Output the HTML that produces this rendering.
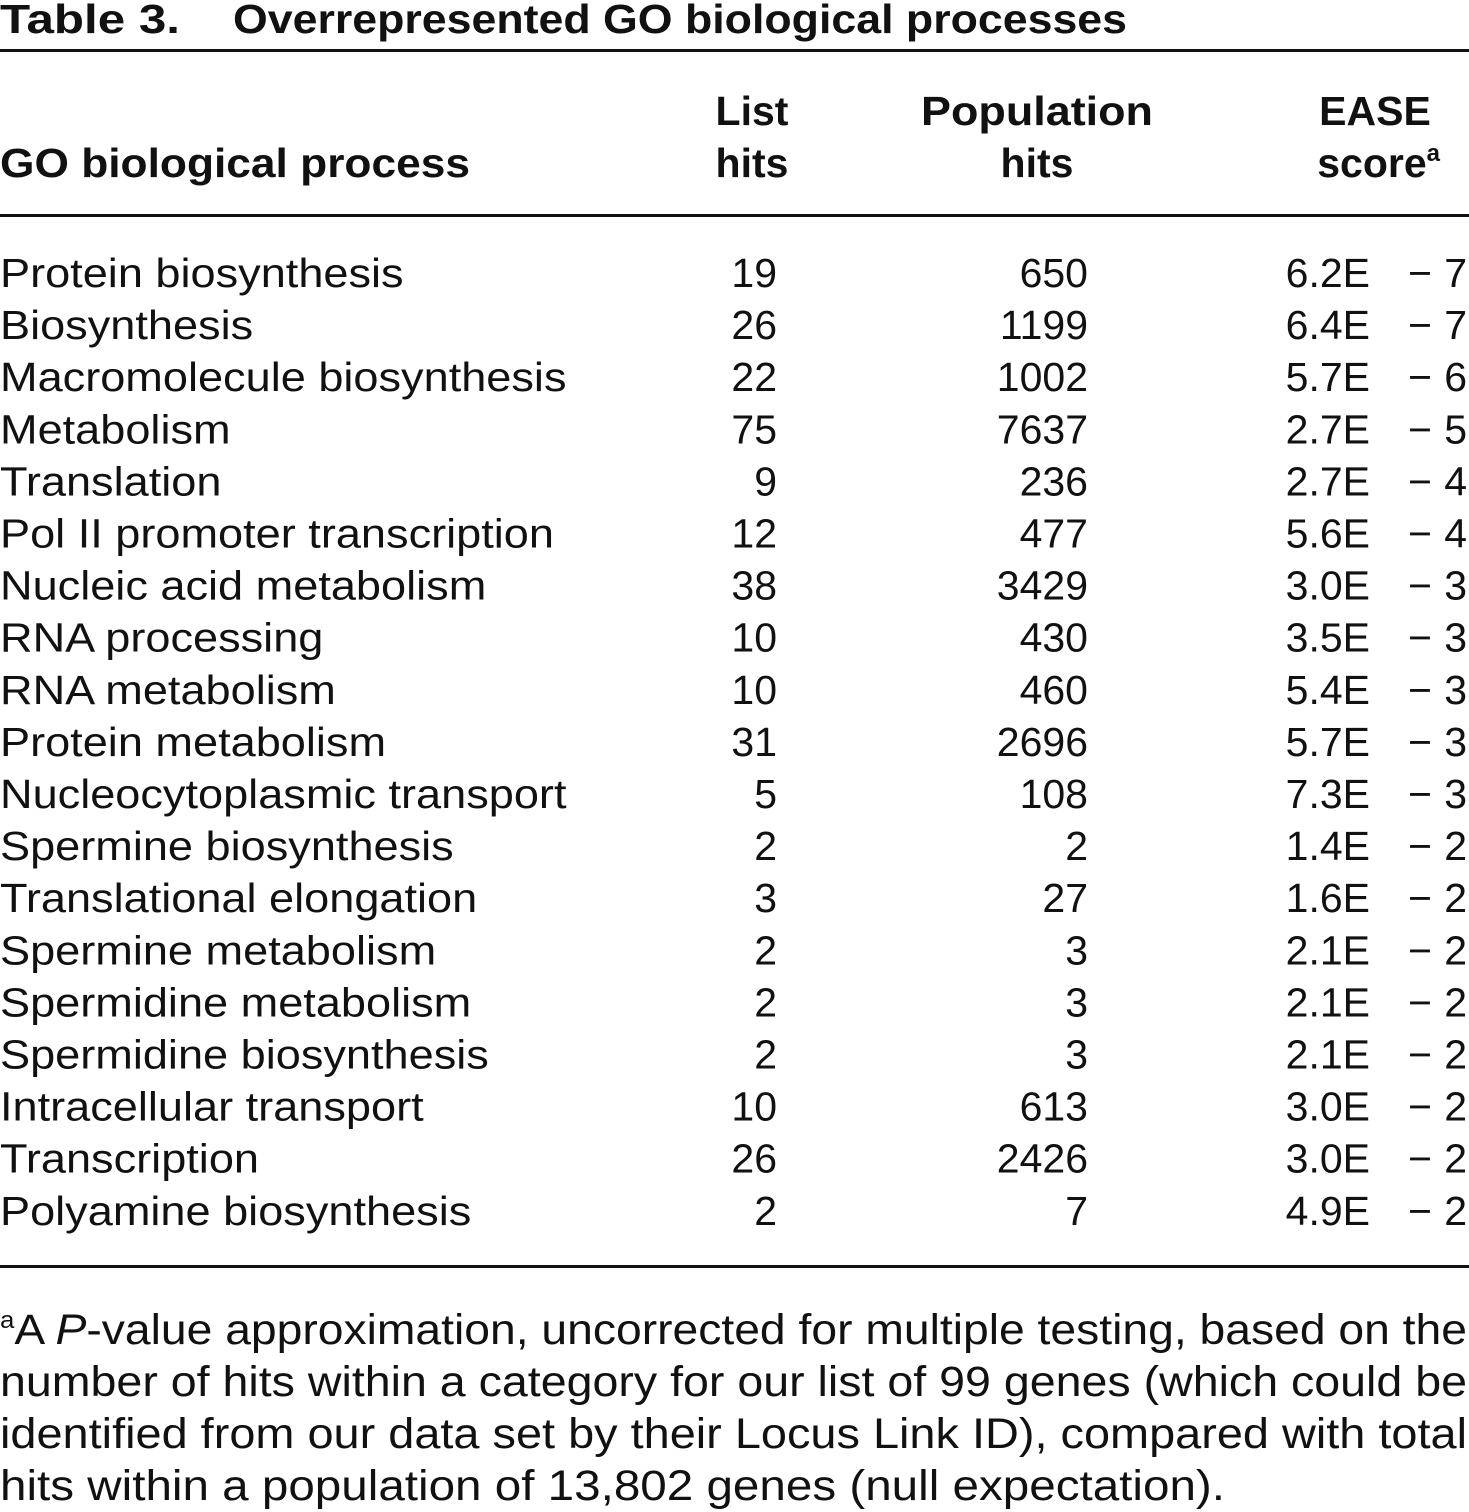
<!DOCTYPE html>
<html><head><meta charset="utf-8"><style>
html,body{margin:0;padding:0;background:#fff}
svg{display:block}
text{font-family:"Liberation Sans",sans-serif;font-size:41px;fill:#111}
.b{font-weight:bold}
.f{font-size:43px}
</style></head><body>
<svg width="1469" height="1512" xmlns="http://www.w3.org/2000/svg">
<text class="b" x="0" y="33" textLength="180" lengthAdjust="spacingAndGlyphs">Table 3.</text>
<text class="b" x="233" y="33" textLength="894" lengthAdjust="spacingAndGlyphs">Overrepresented GO biological processes</text>
<rect x="0" y="49" width="1469" height="3" fill="#111"/>
<text class="b" x="0" y="177" textLength="470" lengthAdjust="spacingAndGlyphs">GO biological process</text>
<text class="b" x="752" y="125" text-anchor="middle">List</text>
<text class="b" x="752" y="177" text-anchor="middle">hits</text>
<text class="b" x="1037" y="125" text-anchor="middle" textLength="232" lengthAdjust="spacingAndGlyphs">Population</text>
<text class="b" x="1037" y="177" text-anchor="middle">hits</text>
<text class="b" x="1375" y="125" text-anchor="middle">EASE</text>
<text class="b" x="1440" y="177" text-anchor="end">score<tspan font-size="24" dy="-16">a</tspan></text>
<rect x="0" y="214" width="1469" height="3" fill="#111"/>
<g id="rows"></g>
<rect x="0" y="1265" width="1469" height="3" fill="#111"/>
<text class="f" x="0" y="1344" textLength="1467" lengthAdjust="spacingAndGlyphs"><tspan font-size="24" dy="-16">a</tspan><tspan dy="16">A </tspan><tspan font-style="italic">P</tspan>-value approximation, uncorrected for multiple testing, based on the</text>
<text class="f" x="0" y="1396" textLength="1467" lengthAdjust="spacingAndGlyphs">number of hits within a category for our list of 99 genes (which could be</text>
<text class="f" x="0" y="1448" textLength="1467" lengthAdjust="spacingAndGlyphs">identified from our data set by their Locus Link ID), compared with total</text>
<text class="f" x="0" y="1500" textLength="1225" lengthAdjust="spacingAndGlyphs">hits within a population of 13,802 genes (null expectation).</text>
<script>
var d=[["Protein biosynthesis",19,650,"6.2E − 7"],["Biosynthesis",26,1199,"6.4E − 7"],["Macromolecule biosynthesis",22,1002,"5.7E − 6"],["Metabolism",75,7637,"2.7E − 5"],["Translation",9,236,"2.7E − 4"],["Pol II promoter transcription",12,477,"5.6E − 4"],["Nucleic acid metabolism",38,3429,"3.0E − 3"],["RNA processing",10,430,"3.5E − 3"],["RNA metabolism",10,460,"5.4E − 3"],["Protein metabolism",31,2696,"5.7E − 3"],["Nucleocytoplasmic transport",5,108,"7.3E − 3"],["Spermine biosynthesis",2,2,"1.4E − 2"],["Translational elongation",3,27,"1.6E − 2"],["Spermine metabolism",2,3,"2.1E − 2"],["Spermidine metabolism",2,3,"2.1E − 2"],["Spermidine biosynthesis",2,3,"2.1E − 2"],["Intracellular transport",10,613,"3.0E − 2"],["Transcription",26,2426,"3.0E − 2"],["Polyamine biosynthesis",2,7,"4.9E − 2"]];
var g=document.getElementById("rows"),ns="http://www.w3.org/2000/svg";
function t(x,y,s,a){var e=document.createElementNS(ns,"text");e.setAttribute("x",x);e.setAttribute("y",y);if(a)e.setAttribute("text-anchor",a);e.textContent=s;g.appendChild(e);return e;}
d.forEach(function(r,i){var y=287+i*52.1;
var l=t(0,y,r[0]);var w=l.getComputedTextLength();l.setAttribute("textLength",w*1.1);l.setAttribute("lengthAdjust","spacingAndGlyphs");
t(777,y,r[1],"end");t(1088,y,r[2],"end");
var p=r[3].split(" − ");t(1370,y,p[0],"end");t(1420,y,"−","middle");t(1467,y,p[1],"end");});
</script>
</svg>
</body></html>
